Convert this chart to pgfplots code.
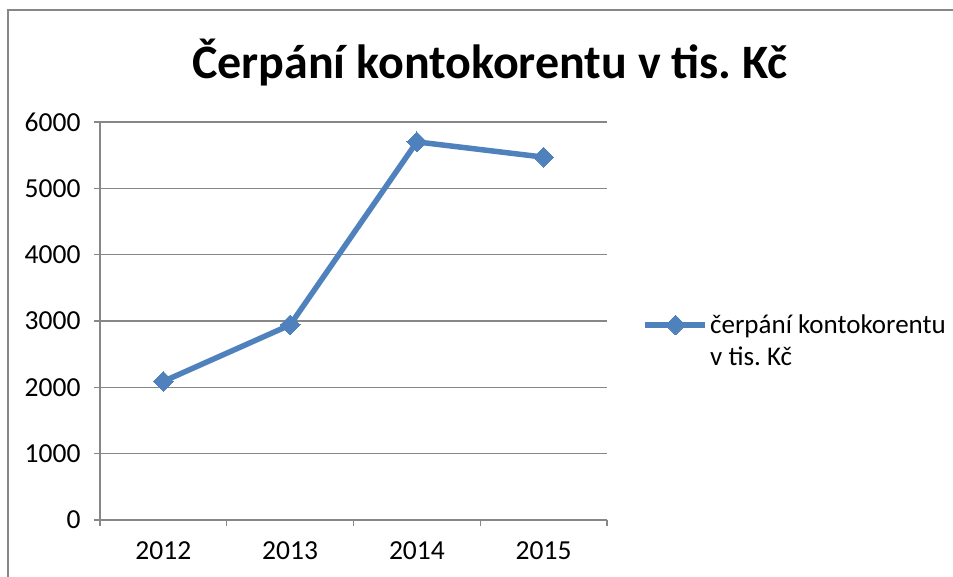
\documentclass[border=0pt]{standalone}
\usepackage{pgfplots}
\pgfplotsset{compat=1.18}
\usepackage{fontspec}
\setmainfont{Carlito}
\frenchspacing
\definecolor{ser}{HTML}{4F81BD}
\definecolor{gl}{HTML}{878787}
\begin{document}
\begin{tikzpicture}[x=1pt,y=1pt]
\useasboundingbox (0,0) rectangle (953,577);
\draw[gl,line width=2pt] (8,-5) -- (8,567) -- (960,567);
\node[font=\fontsize{48}{56}\selectfont\bfseries] at (490,514) {Čerpání kontokorentu v tis. Kč};
\begin{axis}[
  at={(100pt,57pt)}, anchor=south west,
  scale only axis, width=507pt, height=398pt,
  xmin=0, xmax=4, ymin=0, ymax=6000,
  xtick={0,1,2,3,4}, xticklabels={2012,2013,2014,2015},
  x tick label as interval,
  ytick={0,1000,...,6000},
  axis lines=left, axis line style={-, gl, line width=1.3pt},
  ymajorgrids, grid style={gl, line width=1.3pt},
  tick align=outside, major tick length=6pt,
  tick style={gl, line width=1.3pt},
  /pgf/number format/assume math mode=true,
  /pgf/number format/1000 sep={},
  tick label style={font=\fontsize{27.5}{33}\selectfont},
  yticklabel style={xshift=-10pt},
  xticklabel style={yshift=-12pt},
  legend style={draw=none, at={(1.07,0.5)}, anchor=west, yshift=-20pt, font=\fontsize{27}{32}\selectfont, nodes={align=left}, inner sep=0pt},
  legend cell align=left,
  legend image code/.code={\draw[#1, mark repeat=2, mark phase=2] plot coordinates {(0pt,16pt) (30pt,16pt) (60pt,16pt)};},
]
\addplot[ser, line width=5.5pt, mark=square*, mark size=7pt, mark options={rotate=45, line width=0pt}] coordinates {(0.5,2090) (1.5,2940) (2.5,5700) (3.5,5470)};
\addlegendentry{čerpání kontokorentu\\v tis. Kč}
\end{axis}
\end{tikzpicture}
\end{document}
